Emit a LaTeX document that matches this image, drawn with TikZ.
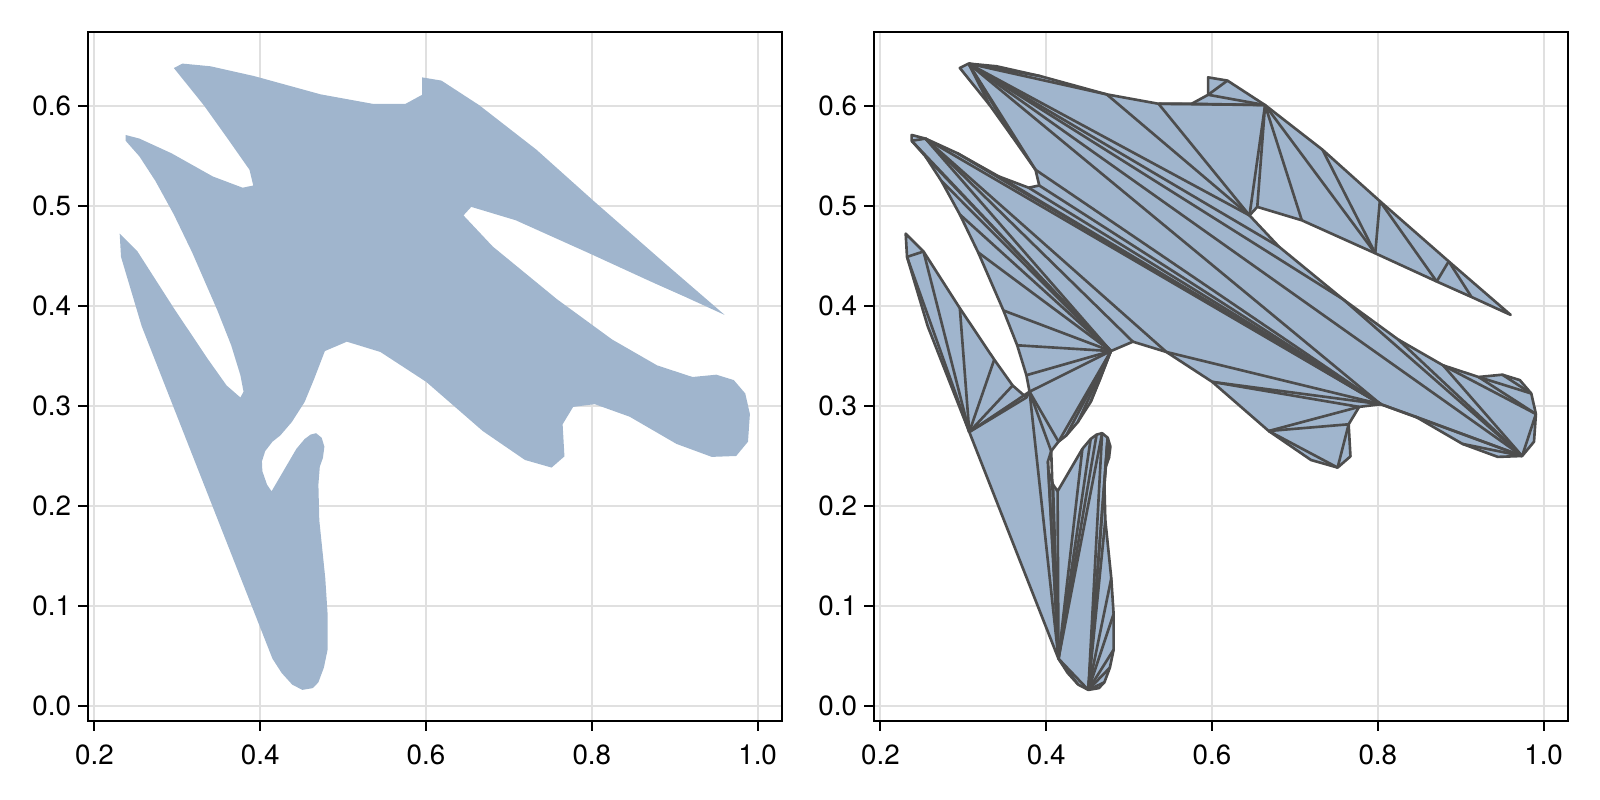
\documentclass[tikz,border=0pt]{standalone}
\usepackage{fontspec}
\setmainfont{TeX Gyre Heros}
\usepackage{xcolor}
\definecolor{polyblue}{RGB}{160,181,205}
\definecolor{edgegray}{RGB}{77,77,77}
\usepackage{tikz}
\usetikzlibrary{positioning}
\newcommand{\ticklab}{\fontsize{7.9}{9}\selectfont}
\tikzset{
  frm/.style     ={draw=black, line width=0.57pt},
  gridln/.style  ={draw=black!12, line width=0.57pt},
  tck/.style     ={draw=black, line width=0.57pt},
  xlab/.style    ={font=\ticklab, inner sep=0pt, anchor=center},
  ylab/.style    ={font=\ticklab, inner sep=0pt, anchor=east},
  shapefill/.style={fill=polyblue},
  triedge/.style ={draw=edgegray, line width=0.75pt, line join=round},
}
% outline points of the shape (data units)
\newcommand{\shapepts}{%
  \foreach \i/\px/\py in {
    1/0.2958/0.6380, 2/0.3063/0.6424, 3/0.3401/0.6397, 4/0.3927/0.6299,
    5/0.4730/0.6116, 6/0.5355/0.6022, 7/0.5754/0.6022, 8/0.5953/0.6112,
    9/0.5953/0.6286, 10/0.6186/0.6254, 11/0.6640/0.6009, 12/0.7332/0.5563,
    13/0.8024/0.5049, 14/0.8855/0.4446, 15/0.9602/0.3911, 16/0.9130/0.4090,
    17/0.8710/0.4245, 18/0.7969/0.4527, 19/0.7083/0.4857, 20/0.6546/0.4991,
    21/0.6452/0.4906, 22/0.6806/0.4594, 23/0.7581/0.4067, 24/0.8245/0.3665,
    25/0.8788/0.3406, 26/0.9215/0.3290, 27/0.9502/0.3313, 28/0.9713/0.3259,
    29/0.9851/0.3125, 30/0.9907/0.2920, 31/0.9884/0.2643, 32/0.9741/0.2500,
    33/0.9447/0.2491, 34/0.9021/0.2621, 35/0.8456/0.2893, 36/0.8035/0.3018,
    37/0.7775/0.2991, 38/0.7648/0.2817, 39/0.7670/0.2496, 40/0.7515/0.2384,
    41/0.7194/0.2460, 42/0.6684/0.2750, 43/0.6003/0.3241, 44/0.5450/0.3540,
    45/0.5045/0.3643, 46/0.4780/0.3549, 47/0.4647/0.3263, 48/0.4536/0.3040,
    49/0.4381/0.2839, 50/0.4242/0.2705, 51/0.4148/0.2643, 52/0.4060/0.2549,
    53/0.4021/0.2446, 54/0.4026/0.2348, 55/0.4082/0.2214, 56/0.4137/0.2147,
    57/0.4436/0.2571, 58/0.4536/0.2670, 59/0.4608/0.2714, 60/0.4674/0.2728,
    61/0.4741/0.2683, 62/0.4774/0.2594, 63/0.4757/0.2482, 64/0.4719/0.2393,
    65/0.4702/0.2214, 66/0.4713/0.1857, 67/0.4785/0.1277, 68/0.4813/0.0920,
    69/0.4813/0.0563, 70/0.4768/0.0384, 71/0.4702/0.0237, 72/0.4635/0.0179,
    73/0.4508/0.0161, 74/0.4386/0.0214, 75/0.4259/0.0330, 76/0.4148/0.0473,
    77/0.3072/0.2740, 78/0.2570/0.3799, 79/0.2321/0.4491, 80/0.2305/0.4723,
    81/0.2520/0.4545, 82/0.2958/0.3978, 83/0.3373/0.3464, 84/0.3595/0.3205,
    85/0.3761/0.3085, 86/0.3799/0.3143, 87/0.3761/0.3308, 88/0.3650/0.3607,
    89/0.3484/0.3955, 90/0.3179/0.4536, 91/0.2958/0.4915, 92/0.2736/0.5250,
    93/0.2543/0.5496, 94/0.2377/0.5652, 95/0.2377/0.5710, 96/0.2543/0.5674,
    97/0.2930/0.5527, 98/0.3429/0.5295, 99/0.3788/0.5183, 100/0.3916/0.5205,
    101/0.3871/0.5362, 102/0.3595/0.5688, 103/0.3318/0.6009}
    {\coordinate (p\i) at (\px,\py);}%
}
% grid of one panel
\newcommand{\panelaxes}[1]{%
  \foreach \gx in {0.2,0.4,0.6,0.8,1.0}
    \draw[gridln] (\gx,-0.0152) -- (\gx,0.6737);
  \foreach \gy in {0,0.1,0.2,0.3,0.4,0.5,0.6}
    \draw[gridln] (0.1923,\gy) -- (1.0294,\gy);
}
% frame, ticks and tick labels of one panel
\newcommand{\panelframe}[1]{%
  \draw[frm] (0.1923,-0.0152) rectangle (1.0294,0.6737);
  \foreach \gx/\t [count=\k] in {0.2/0.2,0.4/0.4,0.6/0.6,0.8/0.8,1.0/1.0} {
    \draw[tck] (\gx,-0.0152) -- ++(0,-1mm);
    \node[xlab] (#1x\k) at (\gx,-0.049) {\t};
  }
  \foreach \gy/\t [count=\k] in {0/0.0,0.1/0.1,0.2/0.2,0.3/0.3,0.4/0.4,0.5/0.5,0.6/0.6} {
    \draw[tck] (0.1923,\gy) -- ++(-1mm,0);
    \node[ylab] (#1y\k) at (0.1726,\gy) {\t};
  }
}

\begin{document}
\begin{tikzpicture}
  \useasboundingbox (0,0) rectangle (16,8);
  % left panel: the filled shape
  \begin{scope}[xshift=-0.714cm, yshift=0.94cm, x=8.29cm, y=10cm]
    \panelaxes{L}
    \shapepts
    \fill[shapefill] (p1) \foreach \i in {2,...,103} {-- (p\i)} -- cycle;
    \panelframe{L}
  \end{scope}
  % right panel: the triangulated shape
  \begin{scope}[xshift=7.146cm, yshift=0.94cm, x=8.29cm, y=10cm]
    \panelaxes{R}
    \shapepts
    \fill[shapefill] (p1) \foreach \i in {2,...,103} {-- (p\i)} -- cycle;
    \foreach \a/\b in {
      2/103, 2/102, 2/101, 36/101, 2/4, 2/5, 2/21, 2/22, 2/23, 2/32, 2/36,
      5/21, 6/21, 6/11, 7/11, 8/11, 8/10,
      11/21, 11/20, 11/19, 11/18, 12/18, 13/18, 13/17, 14/17, 14/16,
      23/32, 24/32, 25/32, 25/30, 30/32, 26/30, 26/29, 27/29, 32/34, 32/35, 32/36,
      36/43, 37/43, 37/42, 38/42, 38/40, 40/42, 36/44, 44/96, 36/96, 45/96, 46/96, 94/96,
      46/94, 46/93, 46/92, 46/91, 46/90, 46/89, 46/88, 46/87, 46/86,
      36/97, 36/98, 36/99, 36/100,
      46/48, 46/49, 46/50, 46/51, 86/51, 86/52, 86/76,
      52/76, 53/76, 54/76, 55/76, 56/76, 57/76, 58/76, 59/76, 60/76,
      60/73, 73/76, 74/76,
      61/63, 61/64, 61/65, 61/73, 65/73, 66/73, 67/73, 68/73, 69/73, 70/73, 71/73,
      81/79, 81/77, 79/77, 82/77, 83/77, 84/77, 85/77, 86/77}
      \draw[triedge] (p\a) -- (p\b);
    \draw[triedge] (p1) \foreach \i in {2,...,103} {-- (p\i)} -- cycle;
    \panelframe{R}
  \end{scope}
\end{tikzpicture}
\end{document}
